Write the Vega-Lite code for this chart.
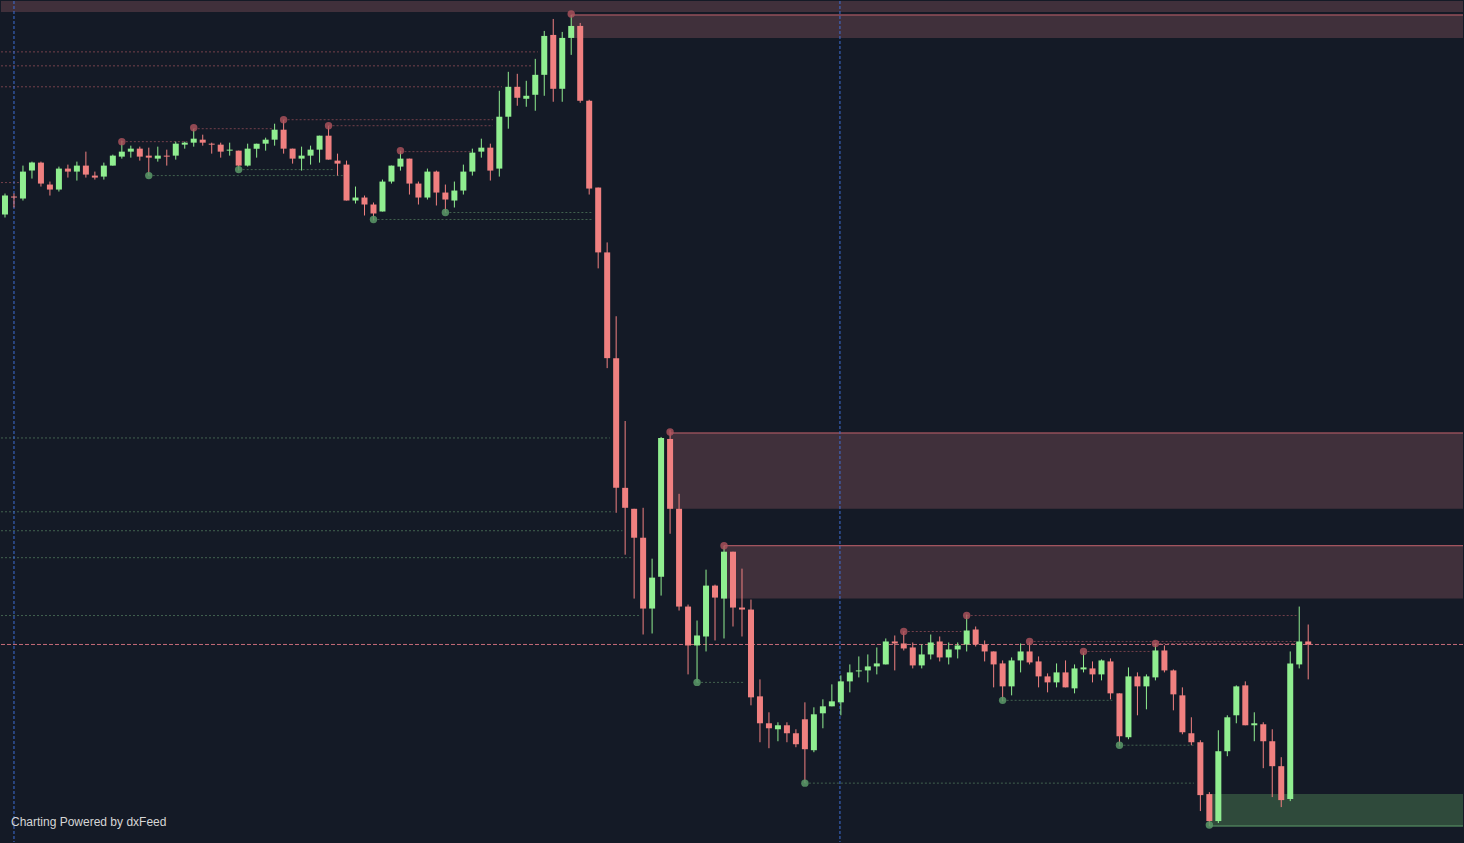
{
"$schema":"https://vega.github.io/schema/vega-lite/v6.json",
"width":1464,"height":843,
"autosize":{"type":"fit","contains":"padding"},
"padding":0,
"background":"#141a26",
"config":{"view":{"stroke":null},"scale":{"continuousPadding":0}},
"datasets":{
"candles":[
{"i":0,"o":786,"h":807,"l":783,"c":805},{"i":1,"o":804,"h":807,"l":793,"c":803},{"i":2,"o":802,"h":835,"l":800,"c":829},{"i":3,"o":830,"h":839,"l":822,"c":838},{"i":4,"o":838,"h":839,"l":814,"c":817},{"i":5,"o":816,"h":819,"l":805,"c":811},{"i":6,"o":811,"h":834,"l":809,"c":832},{"i":7,"o":832,"h":836,"l":823,"c":829},{"i":8,"o":829,"h":839,"l":820,"c":835},{"i":9,"o":835,"h":849,"l":823,"c":826},
{"i":10,"o":825,"h":829,"l":821,"c":823},{"i":11,"o":824,"h":838,"l":821,"c":835},{"i":12,"o":835,"h":846,"l":835,"c":845},{"i":13,"o":844,"h":860,"l":842,"c":849},{"i":14,"o":849,"h":855,"l":843,"c":852},{"i":15,"o":852,"h":854,"l":840,"c":844},{"i":16,"o":845,"h":853,"l":825,"c":843},{"i":17,"o":842,"h":854,"l":839,"c":845},{"i":18,"o":845,"h":851,"l":835,"c":844},{"i":19,"o":845,"h":859,"l":841,"c":857},
{"i":20,"o":856,"h":859,"l":852,"c":858},{"i":21,"o":858,"h":872,"l":854,"c":862},{"i":22,"o":861,"h":866,"l":855,"c":858},{"i":23,"o":857,"h":858,"l":847,"c":856},{"i":24,"o":856,"h":858,"l":843,"c":849},{"i":25,"o":850,"h":858,"l":845,"c":851},{"i":26,"o":850,"h":850,"l":830,"c":835},{"i":27,"o":835,"h":857,"l":834,"c":852},{"i":28,"o":852,"h":857,"l":843,"c":857},{"i":29,"o":857,"h":863,"l":850,"c":861},
{"i":30,"o":861,"h":877,"l":855,"c":871},{"i":31,"o":871,"h":881,"l":847,"c":852},{"i":32,"o":852,"h":852,"l":837,"c":842},{"i":33,"o":842,"h":854,"l":830,"c":845},{"i":34,"o":845,"h":855,"l":836,"c":851},{"i":35,"o":851,"h":865,"l":838,"c":865},{"i":36,"o":865,"h":875,"l":841,"c":841},{"i":37,"o":840,"h":847,"l":825,"c":837},{"i":38,"o":836,"h":840,"l":800,"c":800},{"i":39,"o":800,"h":814,"l":797,"c":803},
{"i":40,"o":803,"h":805,"l":785,"c":796},{"i":41,"o":796,"h":798,"l":780,"c":787},{"i":42,"o":789,"h":821,"l":789,"c":819},{"i":43,"o":819,"h":835,"l":817,"c":835},{"i":44,"o":834,"h":850,"l":830,"c":842},{"i":45,"o":842,"h":842,"l":806,"c":817},{"i":46,"o":817,"h":819,"l":796,"c":803},{"i":47,"o":803,"h":832,"l":801,"c":829},{"i":48,"o":829,"h":830,"l":795,"c":808},{"i":49,"o":808,"h":816,"l":788,"c":801},
{"i":50,"o":800,"h":819,"l":793,"c":810},{"i":51,"o":810,"h":836,"l":806,"c":829},{"i":52,"o":829,"h":852,"l":825,"c":848},{"i":53,"o":849,"h":862,"l":843,"c":853},{"i":54,"o":853,"h":857,"l":820,"c":830},{"i":55,"o":832,"h":910,"l":824,"c":884},{"i":56,"o":884,"h":929,"l":872,"c":914},{"i":57,"o":914,"h":927,"l":895,"c":903},{"i":58,"o":902,"h":920,"l":894,"c":905},{"i":59,"o":906,"h":942,"l":890,"c":926},
{"i":60,"o":926,"h":970,"l":905,"c":965},{"i":61,"o":966,"h":982,"l":899,"c":912},{"i":62,"o":912,"h":969,"l":899,"c":963},{"i":63,"o":963,"h":986,"l":946,"c":975},{"i":64,"o":975,"h":978,"l":898,"c":900},{"i":65,"o":900,"h":901,"l":806,"c":812},{"i":66,"o":813,"h":813,"l":732,"c":748},{"i":67,"o":748,"h":758,"l":632,"c":642},{"i":68,"o":642,"h":684,"l":487,"c":512},{"i":69,"o":512,"h":579,"l":445,"c":492},
{"i":70,"o":491,"h":491,"l":401,"c":462},{"i":71,"o":462,"h":492,"l":365,"c":391},{"i":72,"o":391,"h":441,"l":366,"c":422},{"i":73,"o":423,"h":563,"l":404,"c":562},{"i":74,"o":561,"h":570,"l":466,"c":491},{"i":75,"o":491,"h":506,"l":389,"c":393},{"i":76,"o":393,"h":395,"l":325,"c":354},{"i":77,"o":354,"h":379,"l":317,"c":364},{"i":78,"o":363,"h":430,"l":348,"c":414},{"i":79,"o":414,"h":415,"l":359,"c":402},
{"i":80,"o":401,"h":454,"l":361,"c":448},{"i":81,"o":448,"h":448,"l":373,"c":392},{"i":82,"o":392,"h":431,"l":363,"c":390},{"i":83,"o":390,"h":400,"l":294,"c":302},{"i":84,"o":303,"h":320,"l":257,"c":276},{"i":85,"o":276,"h":287,"l":251,"c":271},{"i":86,"o":270,"h":277,"l":258,"c":274},{"i":87,"o":274,"h":277,"l":257,"c":266},{"i":88,"o":266,"h":270,"l":252,"c":255},{"i":89,"o":280,"h":297,"l":216,"c":250},
{"i":90,"o":249,"h":292,"l":247,"c":285},{"i":91,"o":286,"h":300,"l":271,"c":293},{"i":92,"o":293,"h":315,"l":293,"c":298},{"i":93,"o":297,"h":324,"l":284,"c":318},{"i":94,"o":318,"h":335,"l":307,"c":327},{"i":95,"o":328,"h":343,"l":322,"c":329},{"i":96,"o":329,"h":345,"l":317,"c":333},{"i":97,"o":333,"h":352,"l":325,"c":336},{"i":98,"o":335,"h":361,"l":335,"c":358},{"i":99,"o":358,"h":364,"l":329,"c":356},
{"i":100,"o":356,"h":368,"l":349,"c":351},{"i":101,"o":352,"h":357,"l":331,"c":334},{"i":102,"o":334,"h":355,"l":331,"c":345},{"i":103,"o":345,"h":365,"l":340,"c":357},{"i":104,"o":358,"h":363,"l":338,"c":342},{"i":105,"o":342,"h":357,"l":335,"c":350},{"i":106,"o":350,"h":357,"l":341,"c":354},{"i":107,"o":355,"h":385,"l":348,"c":369},{"i":108,"o":370,"h":373,"l":353,"c":355},{"i":109,"o":355,"h":359,"l":338,"c":348},
{"i":110,"o":348,"h":348,"l":312,"c":335},{"i":111,"o":336,"h":339,"l":298,"c":313},{"i":112,"o":313,"h":342,"l":304,"c":339},{"i":113,"o":339,"h":356,"l":327,"c":348},{"i":114,"o":348,"h":357,"l":335,"c":337},{"i":115,"o":338,"h":343,"l":312,"c":323},{"i":116,"o":323,"h":326,"l":307,"c":317},{"i":117,"o":317,"h":336,"l":312,"c":327},{"i":118,"o":327,"h":339,"l":312,"c":312},{"i":119,"o":311,"h":335,"l":306,"c":331},
{"i":120,"o":330,"h":347,"l":327,"c":332},{"i":121,"o":331,"h":338,"l":317,"c":325},{"i":122,"o":325,"h":340,"l":319,"c":339},{"i":123,"o":338,"h":341,"l":300,"c":306},{"i":124,"o":306,"h":306,"l":253,"c":263},{"i":125,"o":262,"h":332,"l":260,"c":323},{"i":126,"o":323,"h":327,"l":284,"c":313},{"i":127,"o":313,"h":325,"l":290,"c":323},{"i":128,"o":322,"h":356,"l":319,"c":349},{"i":129,"o":349,"h":354,"l":327,"c":329},
{"i":130,"o":329,"h":330,"l":289,"c":305},{"i":131,"o":304,"h":312,"l":265,"c":267},{"i":132,"o":266,"h":282,"l":254,"c":257},{"i":133,"o":257,"h":259,"l":188,"c":204},{"i":134,"o":205,"h":207,"l":173,"c":178},{"i":135,"o":178,"h":269,"l":176,"c":248},{"i":136,"o":248,"h":284,"l":243,"c":282},{"i":137,"o":284,"h":314,"l":276,"c":313},{"i":138,"o":314,"h":318,"l":274,"c":274},{"i":139,"o":274,"h":287,"l":258,"c":276},
{"i":140,"o":275,"h":277,"l":231,"c":258},{"i":141,"o":258,"h":270,"l":202,"c":233},{"i":142,"o":233,"h":242,"l":192,"c":199},{"i":143,"o":200,"h":348,"l":198,"c":336},{"i":144,"o":335,"h":393,"l":331,"c":358},{"i":145,"o":358,"h":375,"l":320,"c":355}
],
"supplyZones":[{"i0":-0.444,"i1":162.222,"top":1000,"bot":989},{"i0":63,"i1":162.222,"top":986,"bot":963},{"i0":74,"i1":162.222,"top":567,"bot":491},{"i0":80,"i1":162.222,"top":454,"bot":401}],
"demandZones":[{"i0":134,"i1":162.222,"top":205,"bot":173}],
"supplyEdges":[{"i0":63,"i1":162.222,"p":986},{"i0":74,"i1":162.222,"p":567},{"i0":80,"i1":162.222,"p":454}],
"demandEdges":[{"i0":134,"i1":162.222,"p":173}],
"highLevels":[{"i0":-0.444,"i1":59.3,"p":949},{"i0":-0.444,"i1":58.7,"p":935},{"i0":-0.444,"i1":55.3,"p":914},{"i0":-0.444,"i1":1.6,"p":818},{"i0":13,"i1":20.3,"p":859},{"i0":21,"i1":29.7,"p":872},{"i0":31,"i1":54.3,"p":881},{"i0":36,"i1":54.3,"p":875},{"i0":44,"i1":51.8,"p":849},{"i0":100,"i1":106.4,"p":368},{"i0":107,"i1":143.7,"p":384},{"i0":114,"i1":143.7,"p":358},{"i0":120,"i1":127.6,"p":348},{"i0":128,"i1":143.7,"p":356}],
"lowLevels":[{"i0":-0.444,"i1":67.3,"p":562},{"i0":-0.444,"i1":67.7,"p":488},{"i0":-0.444,"i1":68.7,"p":469},{"i0":-0.444,"i1":69.7,"p":442},{"i0":-0.444,"i1":70.7,"p":384},{"i0":16,"i1":37.7,"p":825},{"i0":26,"i1":36.7,"p":831},{"i0":41,"i1":65.3,"p":781},{"i0":49,"i1":65.3,"p":788},{"i0":77,"i1":82.3,"p":317},{"i0":89,"i1":132.3,"p":216},{"i0":111,"i1":123.2,"p":299},{"i0":124,"i1":132.3,"p":254}],
"pivotHighs":[{"i":13,"p":859},{"i":21,"p":873},{"i":31,"p":881},{"i":36,"p":875},{"i":44,"p":850},{"i":63,"p":987},{"i":74,"p":568},{"i":80,"p":454},{"i":100,"p":368},{"i":107,"p":384},{"i":114,"p":358},{"i":120,"p":348},{"i":128,"p":356}],
"pivotLows":[{"i":16,"p":825},{"i":26,"p":831},{"i":41,"p":781},{"i":49,"p":788},{"i":77,"p":317},{"i":89,"p":216},{"i":111,"p":299},{"i":124,"p":254},{"i":134,"p":174}],
"sessions":[{"i":1},{"i":92.9}],
"lastPrice":[{"p":355}],
"credit":[{"i":0.667,"p":177,"t":"Charting Powered by dxFeed"}]
},
"layer":[
{"data":{"name":"supplyZones"},"mark":{"type":"rect","color":"#40303b"},
 "encoding":{"x":{"field":"i0","type":"quantitative","scale":{"domain":[-0.444,162.222],"nice":false,"zero":false,"padding":0},"axis":null},"x2":{"field":"i1"},
 "y":{"field":"top","type":"quantitative","scale":{"domain":[157,1000],"nice":false,"zero":false,"padding":0},"axis":null},"y2":{"field":"bot"}}},
{"data":{"name":"demandZones"},"mark":{"type":"rect","color":"#2f4a3b"},
 "encoding":{"x":{"field":"i0","type":"quantitative","scale":{"domain":[-0.444,162.222],"nice":false,"zero":false,"padding":0},"axis":null},"x2":{"field":"i1"},
 "y":{"field":"top","type":"quantitative","scale":{"domain":[157,1000],"nice":false,"zero":false,"padding":0},"axis":null},"y2":{"field":"bot"}}},
{"data":{"name":"supplyEdges"},"mark":{"type":"rule","color":"#c4636d","strokeWidth":1},
 "encoding":{"x":{"field":"i0","type":"quantitative","scale":{"domain":[-0.444,162.222],"nice":false,"zero":false,"padding":0},"axis":null},"x2":{"field":"i1"},
 "y":{"field":"p","type":"quantitative","scale":{"domain":[157,1000],"nice":false,"zero":false,"padding":0},"axis":null}}},
{"data":{"name":"demandEdges"},"mark":{"type":"rule","color":"#5e9e6b","strokeWidth":1},
 "encoding":{"x":{"field":"i0","type":"quantitative","scale":{"domain":[-0.444,162.222],"nice":false,"zero":false,"padding":0},"axis":null},"x2":{"field":"i1"},
 "y":{"field":"p","type":"quantitative","scale":{"domain":[157,1000],"nice":false,"zero":false,"padding":0},"axis":null}}},
{"data":{"name":"highLevels"},"mark":{"type":"rule","color":"#74404b","strokeWidth":1,"strokeDash":[2,2]},
 "encoding":{"x":{"field":"i0","type":"quantitative","scale":{"domain":[-0.444,162.222],"nice":false,"zero":false,"padding":0},"axis":null},"x2":{"field":"i1"},
 "y":{"field":"p","type":"quantitative","scale":{"domain":[157,1000],"nice":false,"zero":false,"padding":0},"axis":null}}},
{"data":{"name":"lowLevels"},"mark":{"type":"rule","color":"#42624f","strokeWidth":1,"strokeDash":[2,2]},
 "encoding":{"x":{"field":"i0","type":"quantitative","scale":{"domain":[-0.444,162.222],"nice":false,"zero":false,"padding":0},"axis":null},"x2":{"field":"i1"},
 "y":{"field":"p","type":"quantitative","scale":{"domain":[157,1000],"nice":false,"zero":false,"padding":0},"axis":null}}},
{"data":{"name":"sessions"},"mark":{"type":"rule","color":"#3d6fd6","strokeWidth":1,"strokeDash":[3,2]},
 "encoding":{"x":{"field":"i","type":"quantitative","scale":{"domain":[-0.444,162.222],"nice":false,"zero":false,"padding":0},"axis":null}}},
{"data":{"name":"lastPrice"},"mark":{"type":"rule","color":"#c46a78","strokeWidth":1,"strokeDash":[4,2]},
 "encoding":{"y":{"field":"p","type":"quantitative","scale":{"domain":[157,1000],"nice":false,"zero":false,"padding":0},"axis":null}}},
{"data":{"name":"candles"},"mark":{"type":"rule","strokeWidth":1},
 "encoding":{"x":{"field":"i","type":"quantitative","scale":{"domain":[-0.444,162.222],"nice":false,"zero":false,"padding":0},"axis":null},
 "y":{"field":"l","type":"quantitative","scale":{"domain":[157,1000],"nice":false,"zero":false,"padding":0},"axis":null},"y2":{"field":"h"},
 "color":{"condition":{"test":"datum.c >= datum.o","value":"#90ee90"},"value":"#f08080"}}},
{"data":{"name":"candles"},"mark":{"type":"bar","size":6},
 "encoding":{"x":{"field":"i","type":"quantitative","scale":{"domain":[-0.444,162.222],"nice":false,"zero":false,"padding":0},"axis":null},
 "y":{"field":"o","type":"quantitative","scale":{"domain":[157,1000],"nice":false,"zero":false,"padding":0},"axis":null},"y2":{"field":"c"},
 "color":{"condition":{"test":"datum.c >= datum.o","value":"#90ee90"},"value":"#f08080"}}},
{"data":{"name":"pivotHighs"},"mark":{"type":"circle","size":55,"color":"#b0545e","opacity":0.8},
 "encoding":{"x":{"field":"i","type":"quantitative","scale":{"domain":[-0.444,162.222],"nice":false,"zero":false,"padding":0},"axis":null},
 "y":{"field":"p","type":"quantitative","scale":{"domain":[157,1000],"nice":false,"zero":false,"padding":0},"axis":null}}},
{"data":{"name":"pivotLows"},"mark":{"type":"circle","size":55,"color":"#5a9a68","opacity":0.85},
 "encoding":{"x":{"field":"i","type":"quantitative","scale":{"domain":[-0.444,162.222],"nice":false,"zero":false,"padding":0},"axis":null},
 "y":{"field":"p","type":"quantitative","scale":{"domain":[157,1000],"nice":false,"zero":false,"padding":0},"axis":null}}},
{"data":{"name":"credit"},"mark":{"type":"text","align":"left","baseline":"middle","font":"Liberation Sans","fontSize":12,"color":"#d6d6d6"},
 "encoding":{"x":{"field":"i","type":"quantitative","scale":{"domain":[-0.444,162.222],"nice":false,"zero":false,"padding":0},"axis":null},
 "y":{"field":"p","type":"quantitative","scale":{"domain":[157,1000],"nice":false,"zero":false,"padding":0},"axis":null},"text":{"field":"t"}}}
]
}
